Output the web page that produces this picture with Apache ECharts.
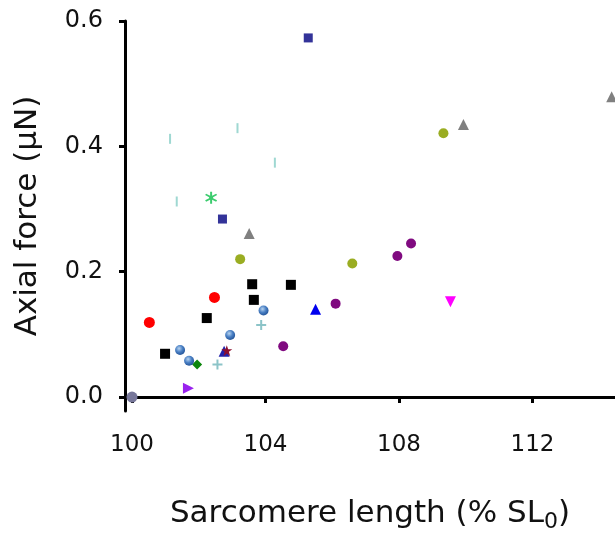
<!DOCTYPE html>
<html>
<head>
<meta charset="utf-8">
<script src="https://cdn.jsdelivr.net/npm/echarts@6/dist/echarts.min.js"></script>
<style>
    html, body { margin: 0; padding: 0; background: #fff; }
    #chart { width: 615px; height: 544px; }
</style>
</head>
<body>
<div id="chart"></div>
<script>
    // tick labels
    var xTicks = [100, 104, 108, 112];
    var yTicks = [0, 0.2, 0.4, 0.6];

    // points [sarcomere length %, axial force uN], one array per marker type
    var blackSquares = [[100.99, 0.069], [102.24, 0.126], [103.60, 0.180], [103.65, 0.155], [104.76, 0.179]];
    var navySquares = [[102.71, 0.284], [105.28, 0.573]];
    var redCircles = [[100.52, 0.119], [102.47, 0.159]];
    var oliveCircles = [[103.24, 0.220], [106.60, 0.213], [109.33, 0.421]];
    var purpleCircles = [[104.53, 0.081], [106.10, 0.149], [107.95, 0.225], [108.36, 0.245]];
    var grayCircles = [[100.0, 0.0]];
    var blueSpheres = [[101.44, 0.075], [101.71, 0.058], [102.94, 0.099], [103.94, 0.138]];
    var grayTriangles = [[103.51, 0.261], [109.93, 0.435], [114.37, 0.479]];
    var blueTriangles = [[105.50, 0.140]];
    var navyTriangles = [[102.76, 0.073]];
    var maroonStars = [[102.84, 0.074]];
    var magentaDown = [[109.54, 0.152]];
    var violetRight = [[101.69, 0.014]];
    var greenDiamonds = [[101.95, 0.052]];
    var tealPlus = [[102.56, 0.052], [103.87, 0.115]];
    var tealDashes = [[101.14, 0.412], [101.34, 0.312], [103.16, 0.429], [104.28, 0.374]];
    var greenAsterisks = [[102.37, 0.318]];

    var plusPath = 'path://M4,0H6V4H10V6H6V10H4V6H0V4H4Z';
    var starPath = 'path://M5,0L6.2,3.6L10,3.6L6.9,5.8L8.1,9.5L5,7.2L1.9,9.5L3.1,5.8L0,3.6L3.8,3.6Z';
    var asteriskPath = 'path://M4.3,0H5.7V3.3L8.5,1.6L9.2,2.8L6.4,4.5V5.5L9.2,7.2L8.5,8.4L5.7,6.7V10H4.3V6.7L1.5,8.4L0.8,7.2L3.6,5.5V4.5L0.8,2.8L1.5,1.6L4.3,3.3Z';

    var sphere = new echarts.graphic.RadialGradient(0.4, 0.35, 0.7, [
        { offset: 0, color: '#b8d4f0' },
        { offset: 0.5, color: '#4a80c4' },
        { offset: 1, color: '#1f4f94' }
    ]);

    function sc(data, symbol, size, color, rotate) {
        return {
            type: 'scatter',
            data: data,
            symbol: symbol,
            symbolSize: size,
            symbolRotate: rotate || 0,
            clip: false,
            itemStyle: { color: color, opacity: 1 }
        };
    }

    var chart = echarts.init(document.getElementById('chart'));
    var labelFont = 'DejaVu Sans, sans-serif';

    chart.setOption({
        animation: false,
        grid: { left: 125, top: 21, right: 0, bottom: 133 },
        xAxis: {
            type: 'value',
            min: 99.79,
            max: 114.47,
            splitLine: { show: false },
            axisLine: { lineStyle: { color: '#000', width: 3 } },
            axisTick: { customValues: xTicks, length: 6, lineStyle: { color: '#000', width: 3 } },
            axisLabel: {
                customValues: xTicks,
                color: '#111',
                fontSize: 23,
                fontFamily: labelFont,
                margin: 23
            },
            name: 'Sarcomere length (% SL{sub|0})',
            nameLocation: 'middle',
            nameGap: 84,
            nameTextStyle: {
                color: '#111',
                fontSize: 31,
                fontFamily: labelFont,
                rich: {
                    sub: { fontSize: 22, fontFamily: labelFont, color: '#111', verticalAlign: 'bottom', padding: [16, 0, 0, 0] }
                }
            }
        },
        yAxis: {
            type: 'value',
            min: -0.0223,
            max: 0.6,
            splitLine: { show: false },
            axisLine: { lineStyle: { color: '#000', width: 3 } },
            axisTick: { customValues: yTicks, length: 6, lineStyle: { color: '#000', width: 3 } },
            axisLabel: {
                customValues: yTicks,
                color: '#111',
                fontSize: 24,
                fontFamily: labelFont,
                margin: 22,
                formatter: function (v) { return v.toFixed(1); }
            },
            name: 'Axial force (μN)',
            nameLocation: 'middle',
            nameGap: 82,
            nameTextStyle: { color: '#111', fontSize: 31, fontFamily: labelFont }
        },
        series: [
            sc(tealDashes, 'rect', [2, 10], '#9fd8d2'),
            sc(greenAsterisks, asteriskPath, 12, '#3ccc6e'),
            sc(grayCircles, 'circle', 11, '#77779a'),
            sc(navySquares, 'rect', 9, '#333399'),
            sc(grayTriangles, 'triangle', 11, '#808080'),
            sc(oliveCircles, 'circle', 10, '#9aad22'),
            sc(purpleCircles, 'circle', 10, '#800a80'),
            sc(redCircles, 'circle', 11, '#ff0000'),
            sc(blackSquares, 'rect', 10, '#000000'),
            sc(blueTriangles, 'triangle', 11, '#0000ee'),
            sc(tealPlus, plusPath, 10, '#8cc4c8'),
            sc(greenDiamonds, 'diamond', 10, '#0c860c'),
            sc(blueSpheres, 'circle', 10, sphere),
            sc(navyTriangles, 'triangle', 11, '#2222aa'),
            sc(maroonStars, starPath, 11, '#8b1030'),
            sc(magentaDown, 'triangle', 11, '#ff00ff', 180),
            sc(violetRight, 'triangle', 11, '#9922ee', -90)
        ]
    });
</script>
</body>
</html>
